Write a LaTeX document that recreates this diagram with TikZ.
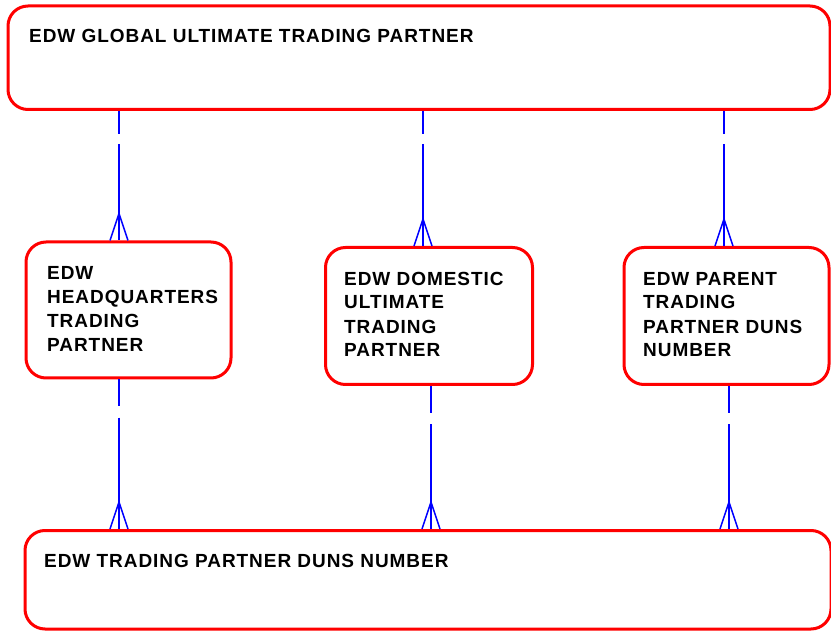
\documentclass[tikz,border=0pt]{standalone}
\usepackage{fontspec}
\setmainfont{Liberation Sans}[LetterSpace=5]
\usetikzlibrary{positioning}

\newcommand{\crowfoot}[1]{\draw[rel] (#1) ++(-9,0) -- ++(9,-27) -- ++(9,27);}

\begin{document}
\begin{tikzpicture}[x=1pt,y=-1pt,
    entity/.style={draw=red, line width=3pt, rounded corners=20pt, inner sep=0pt},
    lbl/.style={anchor=base west, inner sep=0pt, align=left,
      font=\bfseries\fontsize{19}{24}\selectfont},
    rel/.style={draw=blue, line width=1.5pt}]
    \clip (0,0) rectangle (831,631);

    %Entities
    \node[entity, minimum width=822pt, minimum height=103.5pt] (gutp) at (419,57.75) {};
    \node[entity, minimum width=205pt, minimum height=136pt] (hqtp) at (128.5,310) {};
    \node[entity, minimum width=207pt, minimum height=137pt] (dutp) at (429,316) {};
    \node[entity, minimum width=205pt, minimum height=137pt] (ptdn) at (726.5,316) {};
    \node[entity, minimum width=806pt, minimum height=98.5pt] (tpdn) at (428,579.75) {};

    %Labels (base = last line)
    \node[lbl] (gutplbl) at (29,43) {EDW GLOBAL ULTIMATE TRADING PARTNER};
    \node[lbl] (hqtplbl) at (47,352) {EDW\\HEADQUARTERS\\TRADING\\PARTNER};
    \node[lbl] (dutplbl) at (344,357) {EDW DOMESTIC\\ULTIMATE\\TRADING\\PARTNER};
    \node[lbl] (ptdnlbl) at (643,357) {EDW PARENT\\TRADING\\PARTNER DUNS\\NUMBER};
    \node[lbl] (tpdnlbl) at (44,567) {EDW TRADING PARTNER DUNS NUMBER};

    %Relationship columns
    \coordinate (ta) at (119,0);
    \coordinate (tb) at (423,0);
    \coordinate (tc) at (724,0);
    \coordinate (ba) at (119,0);
    \coordinate (bb) at (431,0);
    \coordinate (bc) at (729,0);

    %Upper relationships
    \draw[rel, dash pattern=on 23pt off 10pt on 400pt] (gutp.south -| ta) -- (hqtp.north -| ta);
    \draw[rel, dash pattern=on 23pt off 10pt on 400pt] (gutp.south -| tb) -- (dutp.north -| tb);
    \draw[rel, dash pattern=on 23pt off 10pt on 400pt] (gutp.south -| tc) -- (ptdn.north -| tc);
    \crowfoot{hqtp.north -| ta}
    \crowfoot{dutp.north -| tb}
    \crowfoot{ptdn.north -| tc}

    %Lower relationships
    \draw[rel, dash pattern=on 27pt off 11pt on 400pt] (hqtp.south -| ba) -- (tpdn.north -| ba);
    \draw[rel, dash pattern=on 27pt off 11pt on 400pt] (dutp.south -| bb) -- (tpdn.north -| bb);
    \draw[rel, dash pattern=on 27pt off 11pt on 400pt] (ptdn.south -| bc) -- (tpdn.north -| bc);
    \crowfoot{tpdn.north -| ba}
    \crowfoot{tpdn.north -| bb}
    \crowfoot{tpdn.north -| bc}
\end{tikzpicture}
\end{document}
